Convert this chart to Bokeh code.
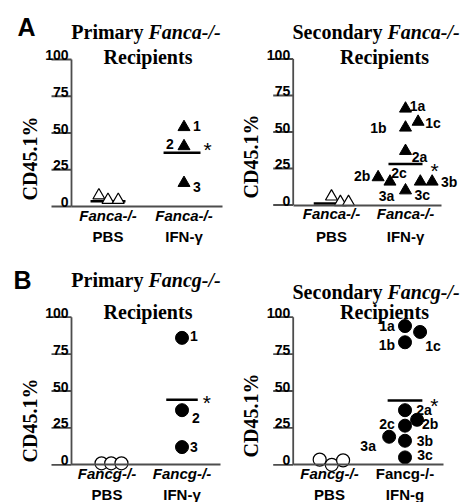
import math
from bokeh.plotting import figure
from bokeh.models import Range1d, FixedTicker, LinearAxis, Label, ColumnDataSource
from bokeh.core.properties import value
from bokeh.layouts import column, row
from bokeh.embed import file_html
from bokeh.resources import INLINE

# ---------------- data (CD45.1 %) ----------------
group_pos = [1, 2]
a1_x_labels = ["Fanca-/-", "Fanca-/-"]
a1_x_labels2 = ["PBS", "IFN-\u03b3"]
a1_pbs = [7.5, 4.5, 4.5]
a1_ifn = [54, 41, 16]
a1_ifn_names = ["1", "2", "3"]
a1_means = [3.6, 36.6]

a2_x_labels = ["Fanca-/-", "Fanca-/-"]
a2_x_labels2 = ["PBS", "IFN-\u03b3"]
a2_pbs = [5.8, 2, 2]
a2_ifn = [66, 53, 57, 37, 19, 16, 10, 16, 16]
a2_ifn_names = ["1a", "1b", "1c", "2a", "2b", "2c", "3a", "3b", "3c"]
a2_means = [1, 28]

b1_x_labels = ["Fancg-/-", "Fancg-/-"]
b1_x_labels2 = ["PBS", "IFN-\u03b3"]
b1_pbs = [1, 1, 1]
b1_ifn = [86, 37, 12]
b1_ifn_names = ["1", "2", "3"]
b1_means = [1, 44]

b2_x_labels = ["Fancg-/-", "Fancg-/-"]
b2_x_labels2 = ["PBS", "IFN-g"]
b2_pbs = [3.5, 0, 3]
b2_ifn = [94, 83, 90, 37, 30.5, 26.5, 19, 16.3, 5]
b2_ifn_names = ["1a", "1b", "1c", "2a", "2b", "2c", "3a", "3b", "3c"]
b2_means = [2, 43.6]

y_ticks = [0, 25, 50, 75, 100]
y_title = "CD45.1%"

# ---------------- layout / style (jitter, offsets) ----------------
a1_style = dict(pbs_jit=[-0.12, 0.0, 0.135], ifn_jit=[0, 0, 0],
                mean_ctr=[0, -0.026], mean_half=[0.23, 0.243],
                lab_off=[(13, -1), (-14, -2), (13, 4)], star=(7, -3), italic=[True, True])
a2_style = dict(pbs_jit=[0, 0.12, 0.23], ifn_jit=[0, 0, 0.17, 0, -0.37, -0.21, 0, 0.36, 0.2],
                mean_ctr=[0, 0], mean_half=[0.24, 0.23],
                lab_off=[(12, -3), (-27, 0), (15, 1), (14, 6), (-16, -1), (9, -9),
                         (-19, 6), (17, 0), (2, 13)], star=(12, 6), italic=[True, True])
b1_style = dict(pbs_jit=[-0.073, 0.056, 0.193], ifn_jit=[0, 0, 0],
                mean_ctr=[0.06, 0], mean_half=[0.21, 0.21],
                lab_off=[(12, -2), (14, 8), (12, 0)], star=(9, 3), italic=[True, True])
b2_style = dict(pbs_jit=[-0.13, 0.03, 0.18], ifn_jit=[0, 0, 0.2, 0, 0.16, 0, -0.21, 0, 0],
                mean_ctr=[0, 0], mean_half=[0.2, 0.23],
                lab_off=[(-18, 0), (-18, 3), (13, 14), (19, 0), (13, 4), (-18, -2),
                         (-21, 9), (20, 0), (20, -2)], star=(12, 5), italic=[True, False])

SANS = "Liberation Sans"
SERIF = "Liberation Serif"
AXC = "#4d4d4d"
LAB_SHIFT = 3
TICK_LEN = 20


def bare_axis(ax, standoff, style):
    ax.axis_line_color = None
    ax.major_tick_line_color = None
    ax.minor_tick_line_color = None
    ax.major_tick_out = 0
    ax.major_tick_in = 0
    ax.major_label_standoff = standoff
    ax.major_label_text_font = SANS
    ax.major_label_text_font_style = style
    ax.major_label_text_font_size = "15px"
    ax.major_label_text_color = "black"


def make_panel(W, H, geo_x, geo_y, marker, pbs, ifn, names, means, st, xl1, xl2,
               title1, title_it, letter, tgeo):
    x0_px, xend_px, g1_px, g2_px = geo_x
    y0_px, ppy, line2_px, ytitle_px = geo_y
    ppx = g2_px - g1_px
    x_lo = group_pos[0] - g1_px / ppx
    x_hi = x_lo + W / ppx
    y_hi = y0_px / ppy
    y_lo = y_hi - H / ppy

    def dxp(px):
        return x_lo + px / ppx

    def dyp(py):
        return y_hi - py / ppy

    p = figure(width=W, height=H, x_range=Range1d(x_lo, x_hi), y_range=Range1d(y_lo, y_hi),
               output_backend="svg", toolbar_location=None, min_border=0)
    p.outline_line_color = None
    p.xgrid.visible = False
    p.ygrid.visible = False

    xa0 = dxp(x0_px)
    xend = dxp(xend_px)

    # y axis tick labels (sitting on the underline ticks)
    ya = p.yaxis[0]
    ya.fixed_location = xa0
    ya.ticker = FixedTicker(ticks=[t + LAB_SHIFT for t in y_ticks])
    ya.major_label_overrides = {t + LAB_SHIFT: str(t) for t in y_ticks}
    ya.axis_line_color = None
    ya.major_tick_line_color = None
    ya.minor_tick_line_color = None
    ya.major_tick_out = 0
    ya.major_tick_in = 0
    ya.major_label_standoff = 3
    ya.major_label_text_font = SANS
    ya.major_label_text_font_style = "bold"
    ya.major_label_text_font_size = "14px"
    ya.major_label_text_color = "black"

    # y axis rule and underline ticks
    tl = TICK_LEN / ppx
    rule = ColumnDataSource(dict(x0=[xa0] + [xa0 - tl] * len(y_ticks),
                                 x1=[xa0] * (len(y_ticks) + 1),
                                 y0=[y_ticks[0]] + y_ticks,
                                 y1=[y_ticks[-1]] + y_ticks))
    p.segment(x0="x0", y0="y0", x1="x1", y1="y1", source=rule, line_color=AXC,
              line_width=1.8)

    # x axis line 1 (at y = 0): italic labels on the rule axis, upright ones separately
    ital = [g for g, it in zip(group_pos, st["italic"]) if it]
    upr = [g for g, it in zip(group_pos, st["italic"]) if not it]
    xa = p.xaxis[0]
    xa.fixed_location = 0
    xa.bounds = (xa0, xend)
    xa.ticker = FixedTicker(ticks=ital)
    xa.major_label_overrides = {g: s for g, s in zip(group_pos, xl1)}
    bare_axis(xa, 0, "bold italic")
    xa.axis_line_color = AXC
    xa.axis_line_width = 1.8
    if upr:
        xu = LinearAxis(ticker=FixedTicker(ticks=upr), fixed_location=0, bounds=(xa0, xend),
                        major_label_overrides={g: s for g, s in zip(group_pos, xl1)})
        bare_axis(xu, 0, "bold")
        p.add_layout(xu, "below")

    # x axis line 2
    xa2 = LinearAxis(ticker=FixedTicker(ticks=group_pos), fixed_location=dyp(line2_px),
                     bounds=(xa0, xend),
                     major_label_overrides={g: s for g, s in zip(group_pos, xl2)})
    bare_axis(xa2, 1, "bold")
    p.add_layout(xa2, "below")

    # mean lines
    mx = [g + c for g, c in zip(group_pos, st["mean_ctr"])]
    seg = ColumnDataSource(dict(x0=[m - h for m, h in zip(mx, st["mean_half"])],
                                x1=[m + h for m, h in zip(mx, st["mean_half"])],
                                y=means))
    p.segment(x0="x0", y0="y", x1="x1", y1="y", source=seg, line_color="black",
              line_width=2.5)

    # PBS (open) and IFN (filled) points
    pbs_src = ColumnDataSource(dict(x=[group_pos[0] + j for j in st["pbs_jit"]], y=pbs))
    ifn_src = ColumnDataSource(dict(x=[group_pos[1] + j for j in st["ifn_jit"]], y=ifn,
                                    name=names,
                                    dx=[o[0] for o in st["lab_off"]],
                                    dy=[o[1] for o in st["lab_off"]]))
    size = 12 if marker == "triangle" else 13
    p.scatter("x", "y", source=pbs_src, marker=marker, size=size, fill_color="white",
              line_color="black", line_width=1.2)
    p.scatter("x", "y", source=ifn_src, marker=marker, size=size, fill_color="black",
              line_color="black")
    p.text("x", "y", text="name", x_offset="dx", y_offset="dy", source=ifn_src,
           text_font=value(SANS), text_font_style="bold", text_font_size="14px",
           text_align="center", text_baseline="middle", text_color="black")

    # significance star
    star_src = ColumnDataSource(dict(x=[mx[1] + st["mean_half"][1]], y=[means[1]],
                                     t=["*"]))
    p.text("x", "y", text="t", source=star_src, x_offset=st["star"][0],
           y_offset=st["star"][1], text_font=value(SANS), text_font_size="21px",
           text_align="center", text_baseline="middle", text_color="black")

    # y axis title
    p.add_layout(Label(x=dxp(x0_px - 42), y=dyp(ytitle_px), text=y_title, angle=math.pi / 2,
                       text_font=SERIF, text_font_style="bold", text_font_size="20px",
                       text_align="center", text_baseline="middle", text_color="black"))

    # panel titles
    junction, ty1, rx, ty2, lx, ly = tgeo
    p.add_layout(Label(x=dxp(junction), y=dyp(ty1), text=title1, text_font=SERIF,
                       text_font_style="bold", text_font_size="20px",
                       text_align="right", text_baseline="middle", text_color="black"))
    p.add_layout(Label(x=dxp(junction), y=dyp(ty1), text=title_it, text_font=SERIF,
                       text_font_style="bold italic", text_font_size="20px",
                       text_align="left", text_baseline="middle", text_color="black"))
    p.add_layout(Label(x=dxp(rx), y=dyp(ty2), text="Recipients", text_font=SERIF,
                       text_font_style="bold", text_font_size="20px",
                       text_align="center", text_baseline="middle", text_color="black"))
    if letter:
        p.add_layout(Label(x=dxp(lx), y=dyp(ly), text=letter, text_font=SANS,
                           text_font_style="bold", text_font_size="25px",
                           text_align="center", text_baseline="middle",
                           text_color="black"))
    return p


p1 = make_panel(234, 250, (71, 222, 107.5, 183.5), (206, 1.47, 226, 158), "triangle",
                a1_pbs, a1_ifn, a1_ifn_names, a1_means, a1_style,
                a1_x_labels, a1_x_labels2, "Primary ", "Fanca-/-", "A",
                (148, 31, 147.5, 56, 26, 26))
p2 = make_panel(234, 250, (58.7, 207, 97, 171), (204.5, 1.46, 226, 156), "triangle",
                a2_pbs, a2_ifn, a2_ifn_names, a2_means, a2_style,
                a2_x_labels, a2_x_labels2, "Secondary ", "Fanca-/-", None,
                (153, 31, 150, 56, 0, 0))
p3 = make_panel(234, 252, (71, 220, 106.5, 181.5), (214.3, 1.476, 234, 170), "circle",
                b1_pbs, b1_ifn, b1_ifn_names, b1_means, b1_style,
                b1_x_labels, b1_x_labels2, "Primary ", "Fancg-/-", "B",
                (148, 29, 147.5, 61, 22, 29))
p4 = make_panel(234, 252, (58.7, 209, 95, 170.5), (214.3, 1.476, 234, 165), "circle",
                b2_pbs, b2_ifn, b2_ifn_names, b2_means, b2_style,
                b2_x_labels, b2_x_labels2, "Secondary ", "Fancg-/-", None,
                (153, 41, 150, 61, 0, 0))

layout = column(row(p1, p2, spacing=0), row(p3, p4, spacing=0), spacing=0)
open("out.html", "w").write(file_html(layout, INLINE))
